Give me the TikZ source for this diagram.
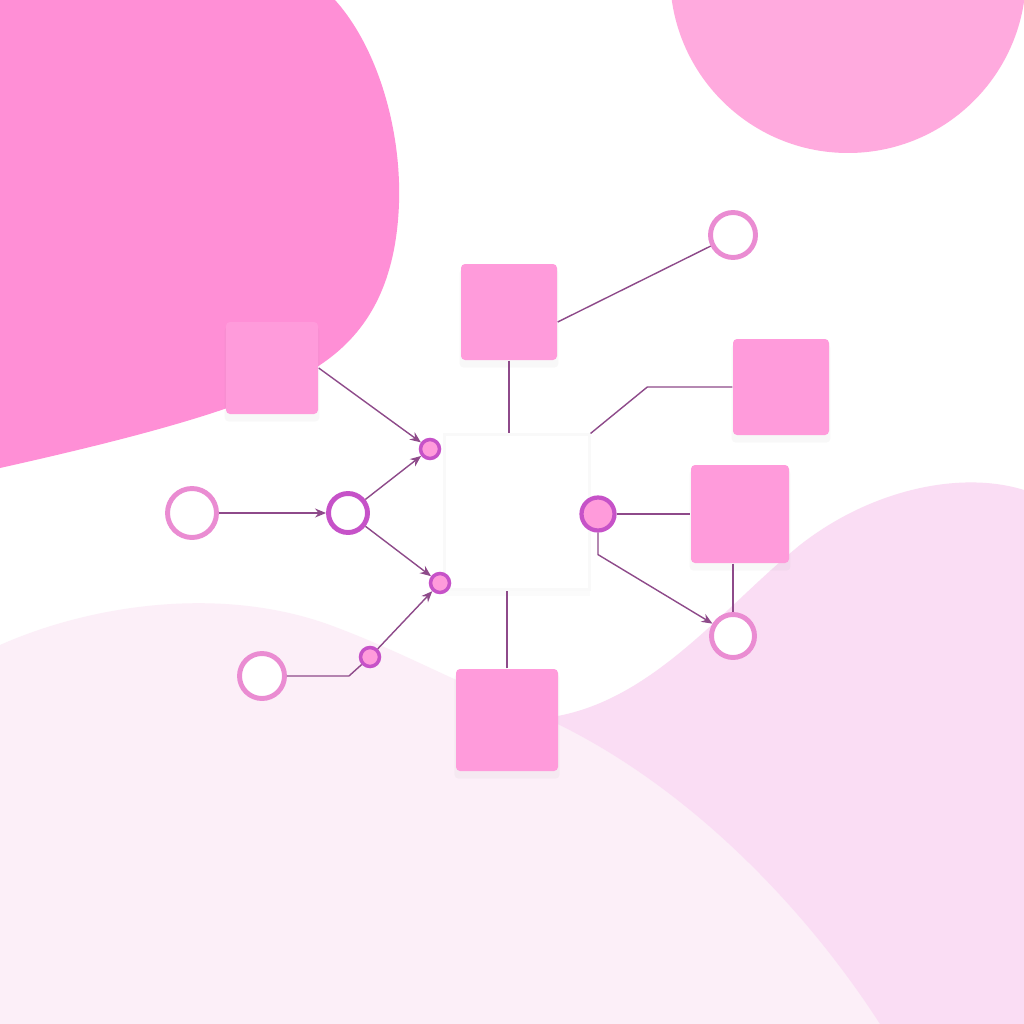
\documentclass[tikz,border=0pt]{standalone}
\usetikzlibrary{arrows.meta,shadows}
\definecolor{blobpink}{RGB}{255,143,214}
\definecolor{moonpink}{RGB}{255,170,222}
\definecolor{mistpink}{RGB}{252,239,248}
\definecolor{hazepink}{RGB}{250,221,244}
\definecolor{boxpink}{RGB}{255,155,219}
\definecolor{ringpink}{RGB}{234,140,210}
\definecolor{ringmag}{RGB}{198,82,200}
\definecolor{linkcol}{RGB}{142,74,138}
\begin{document}
\begin{tikzpicture}[x=0.1mm,y=-0.1mm,
    >={Stealth[length=1.1mm,width=0.9mm]},
    box/.style={rectangle,fill=boxpink,rounded corners=0.4mm,minimum size=#1,inner sep=0pt,
      drop shadow={opacity=0.05,shadow xshift=0mm,shadow yshift=-0.6mm,shadow scale=1.03}},
    box/.default=9.6mm,
    ring/.style={circle,draw=ringpink,line width=1.4pt,fill=white,minimum size=#1,inner sep=0pt},
    ringdark/.style={ring=#1,draw=ringmag},
    dot/.style={circle,draw=ringmag,line width=1pt,fill=boxpink,minimum size=#1,inner sep=0pt},
    dot/.default=1.9mm,
    link/.style={draw=linkcol,line width=0.4pt}]
  \useasboundingbox (0,0) rectangle (1024,1024);
  \clip (0,0) rectangle (1024,1024);
  % background
  \fill[white] (0,0) rectangle (1024,1024);
  \fill[blobpink] (0,0) -- (335,0) .. controls (380,50) and (405,140) .. (398,220)
    .. controls (392,290) and (365,335) .. (320,365)
    .. controls (270,400) and (170,430) .. (0,468) -- cycle;
  \fill[moonpink] (848,-25) circle (17.8mm);
  \fill[mistpink] (0,645) .. controls (90,605) and (220,585) .. (330,625)
    .. controls (430,662) and (490,705) .. (570,718) -- (1024,1024) -- (0,1024) -- cycle;
  \fill[hazepink] (545,718) .. controls (650,705) and (720,610) .. (800,545)
    .. controls (870,490) and (960,470) .. (1024,490) -- (1024,1024) -- (880,1024)
    .. controls (800,900) and (680,780) .. (545,718) -- cycle;
  % empty hub in the middle
  \node[rectangle,fill=white,draw=black!2.5,line width=0.6pt,minimum width=14.5mm,minimum height=15.5mm,
    inner sep=0pt,drop shadow={opacity=0.03,shadow xshift=0mm,shadow yshift=-0.6mm}] (hub) at (517,512) {};
  % squares
  \node[box=9.2mm] (box1) at (272,368) {};
  \node[box] (box2) at (509,312) {};
  \node[box] (box3) at (781,387) {};
  \node[box=9.8mm] (box4) at (740,514) {};
  \node[box=10.2mm] (box5) at (507,720) {};
  % rings
  \node[ring=4.9mm] (ring1) at (192,513) {};
  \node[ringdark=3.9mm] (ring2) at (348,513) {};
  \node[ring=4.5mm] (ring3) at (733,235) {};
  \node[ring=4.3mm] (ring4) at (733,636) {};
  \node[ring=4.5mm] (ring5) at (262,676) {};
  % dots
  \node[dot] (dot1) at (430,449) {};
  \node[dot] (dot2) at (440,583) {};
  \node[dot] (dot3) at (370,657) {};
  \node[dot=3.3mm,line width=1.2pt] (dot4) at (598,514) {};
  % left side links
  \draw[link,->] (ring1) -- (ring2);
  \draw[link,->] (box1.east) -- (dot1);
  \draw[link,->] (ring2) -- (dot1);
  \draw[link,->] (ring2) -- (dot2);
  \draw[link] (ring5.east) -- ++(62,0) -- (dot3);
  \draw[link,->] (dot3) -- (dot2);
  % right side links
  \draw[link] ([yshift=-1mm]box2.east) -- (ring3);
  \draw[link] (box2.south) -- (box2.south |- hub.north);
  \draw[link] (box5.north) -- (box5.north |- hub.south);
  \draw[link] (box3.west) -- ++(-85,0) -- (hub.north east);
  \draw[link] (dot4) -- (box4);
  \draw[link,->] (dot4.south) -- ++(0,22) -- (ring4);
  \draw[link] (box4.south -| ring4) -- (ring4);
\end{tikzpicture}
\end{document}
